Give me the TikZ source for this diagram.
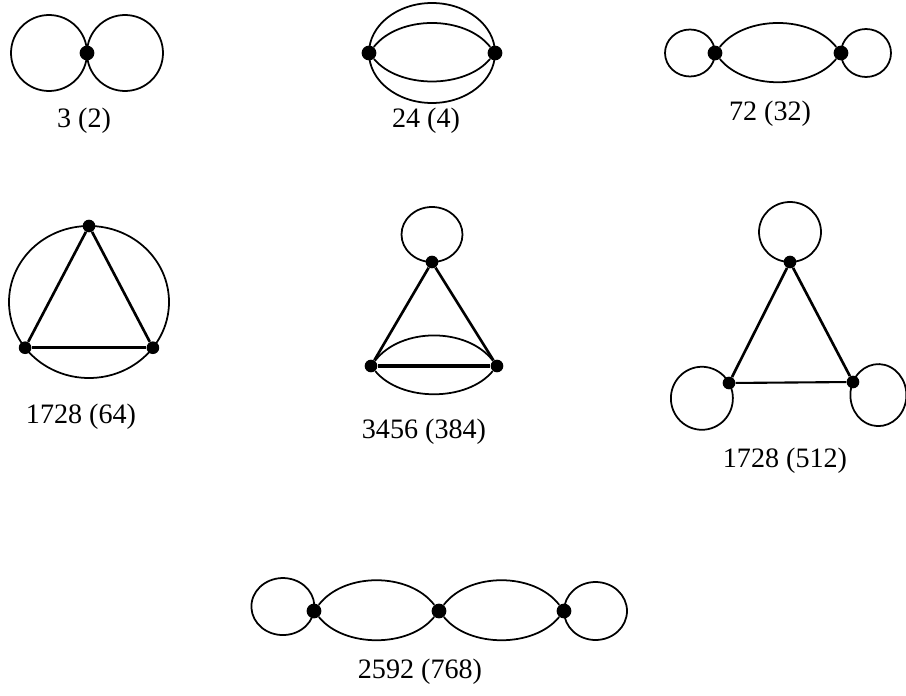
\documentclass[tikz,border=0pt]{standalone}
\usepackage{fontspec}
\setmainfont{Liberation Serif}
\usepackage{tikz}
\usetikzlibrary{calc}
\newcommand{\vloop}[4]{\draw[ln] (#1.center) arc[start angle=#2,end angle=#2+360,x radius=#3,y radius=#4];}

\begin{document}
\begin{tikzpicture}[x=0.02cm,y=-0.02cm,
    vtx/.style={circle,fill,inner sep=0pt,minimum size=8.4pt},
    svtx/.style={vtx,minimum size=7.2pt},
    ln/.style={line width=1pt},
    edge/.style={line width=1.5pt},
    lbl/.style={font=\fontsize{16}{19}\selectfont}]
    \useasboundingbox (0,0) rectangle (906,696);

    \node[vtx] (a) at (87,53) {};
    \vloop{a}{0}{38}{38}
    \vloop{a}{180}{38}{38}
    \node[lbl] (la) at (84,121) {3 (2)};

    \node[vtx] (b1) at (369,53) {};
    \node[vtx] (b2) at (495,53) {};
    \vloop{b1}{180}{63}{50}
    \draw[ln] (b1) .. controls +(30,-38) and +(-30,-38) .. (b2);
    \draw[ln] (b1) .. controls +(30,36) and +(-30,36) .. (b2);
    \node[lbl] (lb) at (426,121) {24 (4)};

    \node[vtx] (c1) at (715,53) {};
    \node[vtx] (c2) at (841,53) {};
    \vloop{c1}{0}{25}{23.5}
    \vloop{c2}{180}{25}{24}
    \draw[ln] (c1) .. controls +(30,-38) and +(-30,-38) .. (c2);
    \draw[ln] (c1) .. controls +(30,37) and +(-30,37) .. (c2);
    \node[lbl] (lc) at (770,114) {72 (32)};

    \coordinate (d) at (89,302);
    \node[svtx] (d1) at ($(d)+(-90:80 and 76)$) {};
    \node[svtx] (d2) at ($(d)+(143:80 and 76)$) {};
    \node[svtx] (d3) at ($(d)+(37:80 and 76)$) {};
    \draw[ln] (d) ellipse [x radius=80,y radius=76];
    \draw[edge] (d2) -- (d1) -- (d3);
    \draw[line width=1.9pt] (d2) -- (d3);
    \node[lbl] (ld) at (81,417) {1728 (64)};

    \node[svtx] (e1) at (432,262) {};
    \node[svtx] (e2) at (371,366) {};
    \node[svtx] (e3) at (497,366) {};
    \vloop{e1}{90}{30.5}{27.5}
    \draw[edge] (e2) -- (e1) -- (e3);
    \draw[line width=1.9pt] (e2) -- (e3);
    \draw[ln] (e2) .. controls +(30,-39) and +(-30,-39) .. (e3);
    \draw[ln] (e2) .. controls +(30,36) and +(-30,36) .. (e3);
    \node[lbl] (le) at (424,432) {3456 (384)};

    \node[svtx] (f1) at (790,262) {};
    \node[svtx] (f2) at (729,383) {};
    \node[svtx] (f3) at (853,382) {};
    \vloop{f1}{90}{31}{30}
    \vloop{f2}{-29}{31}{31.5}
    \vloop{f3}{-155}{28}{31}
    \draw[edge] (f2) -- (f1) -- (f3);
    \draw[line width=1.2pt] (f2) -- (f3);
    \node[lbl] (lf) at (785,461) {1728 (512)};

    \node[vtx] (g1) at (314,611) {};
    \node[vtx] (g2) at (439,611) {};
    \node[vtx] (g3) at (564,611) {};
    \vloop{g1}{9}{31.5}{28.5}
    \vloop{g3}{180}{31.5}{29}
    \draw[ln] (g1) .. controls +(30,-39) and +(-30,-39) .. (g2);
    \draw[ln] (g1) .. controls +(30,37) and +(-30,37) .. (g2);
    \draw[ln] (g2) .. controls +(30,-39) and +(-30,-39) .. (g3);
    \draw[ln] (g2) .. controls +(30,37) and +(-30,37) .. (g3);
    \node[lbl] (lg) at (420,672) {2592 (768)};
\end{tikzpicture}
\end{document}
